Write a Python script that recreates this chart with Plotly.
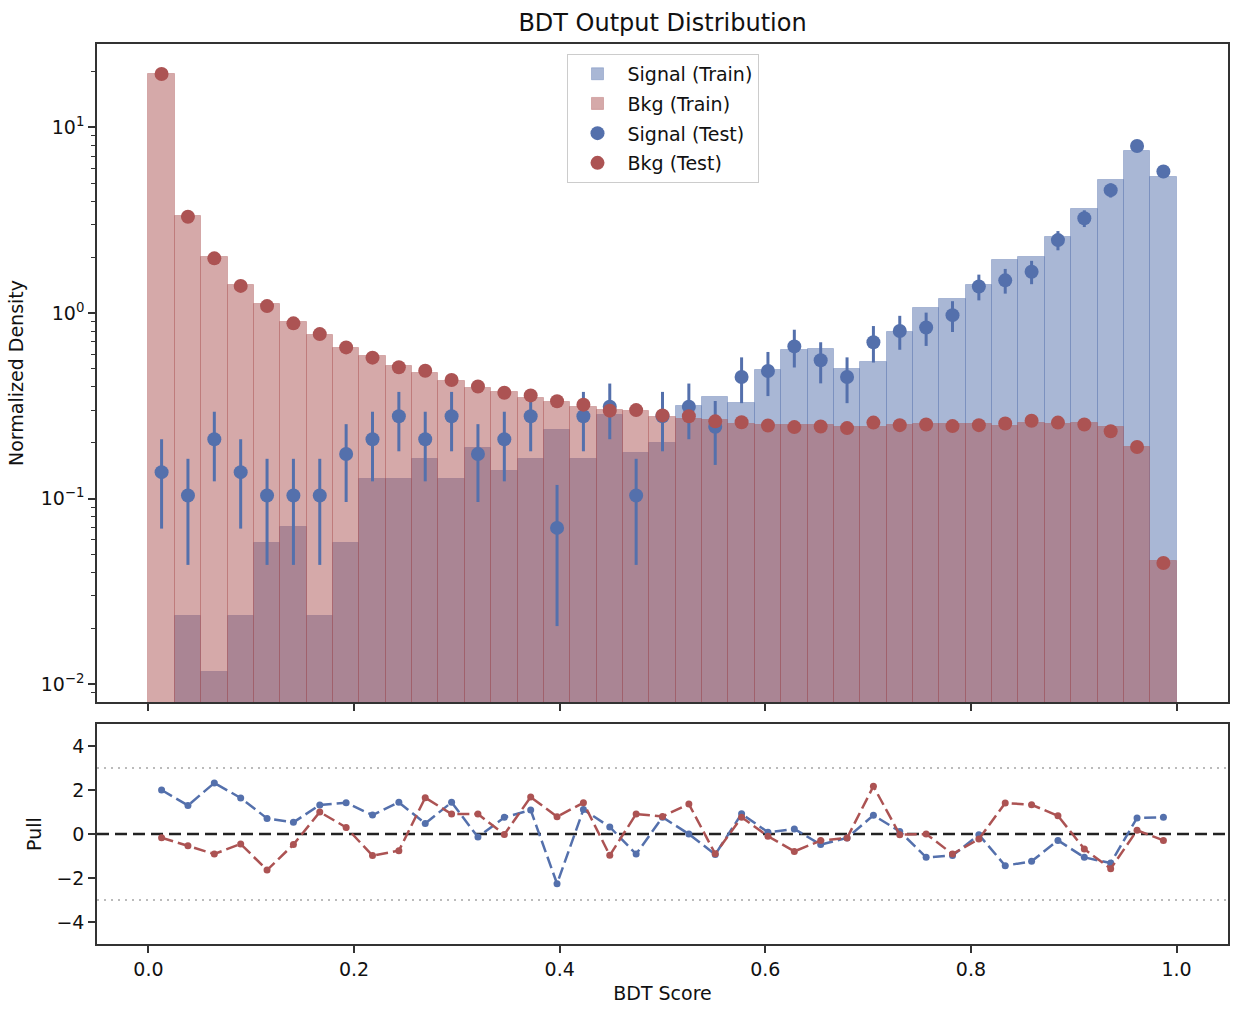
import numpy as np
import plotly.graph_objects as go

# ---------------- data ----------------
bin_edges = list(np.linspace(0.0, 1.0, 40))  # 39 bins

sig_train = [None, 0.0232, 0.0116, 0.0232, 0.058, 0.070, 0.0232, 0.058, 0.128, 0.128,
             0.163, 0.128, 0.187, 0.141, 0.164, 0.233, 0.164, 0.282, 0.177, 0.200,
             0.315, 0.354, 0.327, 0.496, 0.636, 0.644, 0.498, 0.548, 0.789, 1.068,
             1.194, 1.42, 1.92, 2.0, 2.57, 3.65, 5.23, 7.5, 5.42]

bkg_train = [19.4, 3.33, 2.01, 1.415, 1.114, 0.891, 0.764, 0.648, 0.587, 0.519,
             0.474, 0.43, 0.395, 0.376, 0.349, 0.331, 0.311, 0.302, 0.295, 0.275,
             0.269, 0.267, 0.254, 0.248, 0.248, 0.248, 0.242, 0.242, 0.249, 0.251,
             0.251, 0.251, 0.246, 0.257, 0.254, 0.257, 0.242, 0.19, 0.046]

sig_test = [0.139, 0.104, 0.209, 0.139, 0.104, 0.104, 0.104, 0.174, 0.209, 0.278,
            0.209, 0.278, 0.174, 0.209, 0.278, 0.0696, 0.278, 0.313, 0.104, 0.278,
            0.313, 0.244, 0.452, 0.487, 0.661, 0.557, 0.452, 0.696, 0.80, 0.835,
            0.974, 1.39, 1.50, 1.67, 2.47, 3.24, 4.59, 7.93, 5.78]

sig_test_err = [0.07, 0.06, 0.085, 0.07, 0.06, 0.06, 0.06, 0.078, 0.085, 0.098,
                0.085, 0.098, 0.078, 0.085, 0.098, 0.049, 0.098, 0.104, 0.06, 0.098,
                0.104, 0.092, 0.125, 0.13, 0.152, 0.139, 0.125, 0.155, 0.166, 0.170,
                0.184, 0.22, 0.228, 0.24, 0.293, 0.335, 0.40, 0.525, 0.448]

bkg_test = [19.4, 3.3, 1.97, 1.40, 1.09, 0.88, 0.77, 0.653, 0.575, 0.51,
            0.489, 0.436, 0.402, 0.372, 0.36, 0.335, 0.321, 0.298, 0.300, 0.281,
            0.278, 0.261, 0.258, 0.248, 0.243, 0.245, 0.240, 0.257, 0.249, 0.251,
            0.246, 0.249, 0.254, 0.263, 0.257, 0.251, 0.231, 0.190, 0.045]

sig_pull = [2.0, 1.30, 2.32, 1.64, 0.71, 0.53, 1.32, 1.42, 0.86, 1.44,
            0.48, 1.44, -0.14, 0.76, 1.09, -2.26, 1.11, 0.32, -0.91, 0.76,
            0.0, -0.93, 0.92, 0.08, 0.23, -0.48, -0.18, 0.85, 0.12, -1.06,
            -0.98, -0.03, -1.44, -1.24, -0.29, -1.06, -1.32, 0.73, 0.76]

bkg_pull = [-0.17, -0.53, -0.91, -0.45, -1.64, -0.48, 1.0, 0.30, -0.98, -0.76,
            1.65, 0.91, 0.91, -0.02, 1.68, 0.79, 1.42, -0.97, 0.91, 0.80,
            1.36, -0.9, 0.76, -0.1, -0.79, -0.30, -0.18, 2.17, -0.03, 0.0,
            -0.91, -0.23, 1.41, 1.33, 0.83, -0.68, -1.58, 0.17, -0.29]

x_ticks = [0.0, 0.2, 0.4, 0.6, 0.8, 1.0]
x_ticklabels = ["0.0", "0.2", "0.4", "0.6", "0.8", "1.0"]
y_ticks = [0.01, 0.1, 1, 10]
y_ticklabels = ["10<sup>−2</sup>", "10<sup>−1</sup>", "10<sup>0</sup>", "10<sup>1</sup>"]
pull_ticks = [-4, -2, 0, 2, 4]
pull_ticklabels = ["−4", "−2", "0", "2", "4"]

# ---------------- styling ----------------
FONT = "DejaVu Sans"
BLUE = "#5470AC"
RED = "#AC5353"
AXC = "#333333"

edges = np.array(bin_edges)
centers = 0.5 * (edges[:-1] + edges[1:])
width = edges[1] - edges[0]

fig = go.Figure()

fig.add_trace(go.Bar(
    x=centers, y=sig_train, width=width, name="Signal (Train)",
    marker=dict(color="rgba(84,112,172,0.5)", line=dict(color="rgba(84,112,172,0.35)", width=1)),
    xaxis="x", yaxis="y", legendgroup="a"))
fig.add_trace(go.Bar(
    x=centers, y=bkg_train, width=width, name="Bkg (Train)",
    marker=dict(color="rgba(172,83,83,0.5)", line=dict(color="rgba(172,83,83,0.35)", width=1)),
    xaxis="x", yaxis="y", legendgroup="b"))
fig.add_trace(go.Scatter(
    x=centers, y=sig_test, mode="markers", name="Signal (Test)",
    marker=dict(color=BLUE, size=14),
    error_y=dict(type="data", array=sig_test_err, thickness=3, width=0, color=BLUE),
    xaxis="x", yaxis="y", legendgroup="c"))
fig.add_trace(go.Scatter(
    x=centers, y=bkg_test, mode="markers", name="Bkg (Test)",
    marker=dict(color=RED, size=14),
    xaxis="x", yaxis="y", legendgroup="d"))

# pulls
fig.add_trace(go.Scatter(
    x=centers, y=sig_pull, mode="lines+markers", showlegend=False,
    line=dict(color=BLUE, width=2.5, dash="12px,5px"), marker=dict(color=BLUE, size=7),
    xaxis="x2", yaxis="y2"))
fig.add_trace(go.Scatter(
    x=centers, y=bkg_pull, mode="lines+markers", showlegend=False,
    line=dict(color=RED, width=2.5, dash="12px,5px"), marker=dict(color=RED, size=7),
    xaxis="x2", yaxis="y2"))

# reference lines in pull panel
for yv, col, dash, w in [(3, "#bbbbbb", "2px,5px", 2), (-3, "#bbbbbb", "2px,5px", 2),
                         (0, "#222222", "12px,6px", 2.5)]:
    fig.add_shape(type="line", xref="x2 domain", yref="y2", x0=0, x1=1, y0=yv, y1=yv,
                  line=dict(color=col, width=w, dash=dash), layer="below")

minor_vals = [m * 10.0 ** e for e in range(-3, 2) for m in range(2, 10)]

common_axis = dict(showline=True, mirror=True, linecolor=AXC, linewidth=1.5,
                   ticks="outside", ticklen=7, tickwidth=1.5, tickcolor=AXC,
                   showgrid=False, zeroline=False,
                   tickfont=dict(family=FONT, size=19, color="#111"))

fig.update_layout(
    width=1242, height=1020,
    margin=dict(l=97, r=12, t=44, b=76),
    paper_bgcolor="white", plot_bgcolor="white",
    barmode="overlay", bargap=0,
    font=dict(family=FONT, size=19, color="#111"),
    title=dict(text="BDT Output Distribution", x=0.5, xref="paper", xanchor="center",
               y=1 - 23 / 1020, yanchor="middle",
               font=dict(family=FONT, size=24, color="#111")),
    xaxis=dict(domain=[0, 1], anchor="y", range=[-0.05, 1.05],
               tickmode="array", tickvals=x_ticks, showticklabels=False, **common_axis),
    yaxis=dict(domain=[0.2689, 1.0], anchor="x", type="log", range=[-2.095, 1.449],
               tickmode="array", tickvals=y_ticks, ticktext=y_ticklabels,
               minor=dict(tickmode="array", tickvals=minor_vals, ticks="outside",
                          ticklen=4, tickwidth=1, tickcolor=AXC),
               title=dict(text="Normalized Density", standoff=12,
                          font=dict(family=FONT, size=19, color="#111")),
               **common_axis),
    xaxis2=dict(domain=[0, 1], anchor="y2", range=[-0.05, 1.05],
                tickmode="array", tickvals=x_ticks, ticktext=x_ticklabels,
                title=dict(text="BDT Score", standoff=8,
                           font=dict(family=FONT, size=19, color="#111")),
                **common_axis),
    yaxis2=dict(domain=[0, 0.2444], anchor="x2", range=[-5, 5],
                tickmode="array", tickvals=pull_ticks, ticktext=pull_ticklabels,
                title=dict(text="Pull", standoff=10,
                           font=dict(family=FONT, size=19, color="#111")),
                **common_axis),
    legend=dict(x=0.5, xanchor="center", y=0.989, yanchor="top",
                bgcolor="rgba(255,255,255,0.85)", bordercolor="#cccccc", borderwidth=1,
                font=dict(family=FONT, size=19, color="#111"),
                itemwidth=50, traceorder="grouped", tracegroupgap=2),
)

fig.write_html("out.html")
